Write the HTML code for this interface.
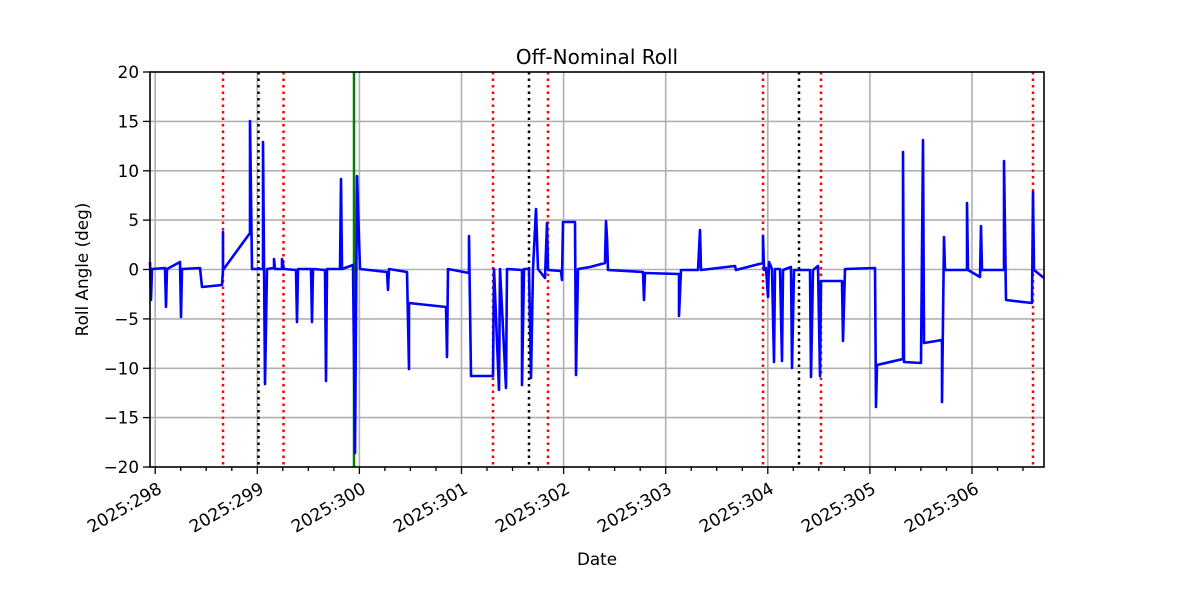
<!DOCTYPE html>
<html><head><meta charset="utf-8"><style>html,body{margin:0;padding:0;background:#fff}svg{display:block}text{font-family:"DejaVu Sans","Liberation Sans",sans-serif;fill:#000}</style></head>
<body>
<svg width="1200" height="600" viewBox="0 0 1200 600" xmlns="http://www.w3.org/2000/svg">
<rect width="1200" height="600" fill="#fff"/>
<g stroke="#b0b0b0" stroke-width="1.6">
<line x1="155.2" y1="72" x2="155.2" y2="467"/><line x1="257.3" y1="72" x2="257.3" y2="467"/><line x1="359.4" y1="72" x2="359.4" y2="467"/><line x1="461.5" y1="72" x2="461.5" y2="467"/><line x1="563.6" y1="72" x2="563.6" y2="467"/><line x1="665.7" y1="72" x2="665.7" y2="467"/><line x1="767.8" y1="72" x2="767.8" y2="467"/><line x1="869.9" y1="72" x2="869.9" y2="467"/><line x1="972" y1="72" x2="972" y2="467"/>
<line x1="150" y1="121.4" x2="1044" y2="121.4"/><line x1="150" y1="170.8" x2="1044" y2="170.8"/><line x1="150" y1="220.1" x2="1044" y2="220.1"/><line x1="150" y1="269.5" x2="1044" y2="269.5"/><line x1="150" y1="318.9" x2="1044" y2="318.9"/><line x1="150" y1="368.3" x2="1044" y2="368.3"/><line x1="150" y1="417.6" x2="1044" y2="417.6"/>
</g>
<g stroke="#ff0000" stroke-width="2.5" stroke-dasharray="2.5,4">
<line x1="223" y1="72" x2="223" y2="467"/><line x1="283.5" y1="72" x2="283.5" y2="467"/><line x1="493" y1="72" x2="493" y2="467"/><line x1="548" y1="72" x2="548" y2="467"/><line x1="763" y1="72" x2="763" y2="467"/><line x1="821" y1="72" x2="821" y2="467"/><line x1="1033" y1="72" x2="1033" y2="467"/>
</g>
<g stroke="#000" stroke-width="2.5" stroke-dasharray="2.5,4">
<line x1="258.5" y1="72" x2="258.5" y2="467"/><line x1="529" y1="72" x2="529" y2="467"/><line x1="799" y1="72" x2="799" y2="467"/>
</g>
<line x1="354" y1="72" x2="354" y2="467" stroke="#008000" stroke-width="2.5"/>
<polyline fill="none" stroke="#0000ff" stroke-width="2.6" stroke-linejoin="round" points="150,262 151,300 152,269 165,268 166,307 167,269 180,262 181,317 182,269 200,268 202,287 222,285 223,270 223,232 223,270 250,233 250,121 252,269 263,269 263,142 265,384 267,269 274,268 274,259 275,269 282,269 282,259 284,269 296,270 297,322 298,269 311,269 312,322 313,269 325,270 326,381 327,269 340,269 341,179 342,269 353,265 355,453 357,176 360,269 387,272 388,290 389,269 407,272 409,369 409,303 446,307 447,357 448,269 469,273 469,236 471,376 493,376 494,269 499,390 500,269 506,388 507,269 522,270 522,385 524,269 529,269 531,378 533,269 536,209 538,269 545,278 547,223 548,270 561,271 562,280 563,222 575,222 576,375 578,269 590,267 605,263 606,221 607,238 608,270 643,272 644,300 645,273 679,274 679,316 681,270 698,270 700,230 701,270 735,266 736,270 763,263 763,236 764,270 766,268 768,297 769,262 772,269 774,362 775,269 780,269 782,361 783,270 791,267 792,368 794,270 810,270 811,377 813,270 818,266 820,376 821,281 842,281 843,341 845,269 875,268 876,407 877,365 903,359 903,152 904,362 921,363 923,140 924,343 942,340 942,402 944,237 945,270 967,270 967,203 968,270 980,277 981,226 982,270 1004,270 1004,161 1006,300 1032,303 1033,192 1034,270 1044,278"/>
<rect x="150" y="72" width="894" height="395" fill="none" stroke="#000" stroke-width="1.6"/>
<g stroke="#000" stroke-width="1.3">
<line x1="155.2" y1="467" x2="155.2" y2="474"/><line x1="257.3" y1="467" x2="257.3" y2="474"/><line x1="359.4" y1="467" x2="359.4" y2="474"/><line x1="461.5" y1="467" x2="461.5" y2="474"/><line x1="563.6" y1="467" x2="563.6" y2="474"/><line x1="665.7" y1="467" x2="665.7" y2="474"/><line x1="767.8" y1="467" x2="767.8" y2="474"/><line x1="869.9" y1="467" x2="869.9" y2="474"/><line x1="972" y1="467" x2="972" y2="474"/>
<line x1="180.7" y1="467" x2="180.7" y2="471"/><line x1="206.2" y1="467" x2="206.2" y2="471"/><line x1="231.8" y1="467" x2="231.8" y2="471"/>
<line x1="282.8" y1="467" x2="282.8" y2="471"/><line x1="308.3" y1="467" x2="308.3" y2="471"/><line x1="333.9" y1="467" x2="333.9" y2="471"/>
<line x1="384.9" y1="467" x2="384.9" y2="471"/><line x1="410.4" y1="467" x2="410.4" y2="471"/><line x1="436" y1="467" x2="436" y2="471"/>
<line x1="487" y1="467" x2="487" y2="471"/><line x1="512.5" y1="467" x2="512.5" y2="471"/><line x1="538.1" y1="467" x2="538.1" y2="471"/>
<line x1="589.1" y1="467" x2="589.1" y2="471"/><line x1="614.6" y1="467" x2="614.6" y2="471"/><line x1="640.2" y1="467" x2="640.2" y2="471"/>
<line x1="691.2" y1="467" x2="691.2" y2="471"/><line x1="716.7" y1="467" x2="716.7" y2="471"/><line x1="742.3" y1="467" x2="742.3" y2="471"/>
<line x1="793.3" y1="467" x2="793.3" y2="471"/><line x1="818.8" y1="467" x2="818.8" y2="471"/><line x1="844.4" y1="467" x2="844.4" y2="471"/>
<line x1="895.4" y1="467" x2="895.4" y2="471"/><line x1="920.9" y1="467" x2="920.9" y2="471"/><line x1="946.5" y1="467" x2="946.5" y2="471"/>
<line x1="997.5" y1="467" x2="997.5" y2="471"/><line x1="1023" y1="467" x2="1023" y2="471"/>
<line x1="143" y1="72" x2="150" y2="72"/><line x1="143" y1="121.4" x2="150" y2="121.4"/><line x1="143" y1="170.8" x2="150" y2="170.8"/><line x1="143" y1="220.1" x2="150" y2="220.1"/><line x1="143" y1="269.5" x2="150" y2="269.5"/><line x1="143" y1="318.9" x2="150" y2="318.9"/><line x1="143" y1="368.3" x2="150" y2="368.3"/><line x1="143" y1="417.6" x2="150" y2="417.6"/><line x1="143" y1="467" x2="150" y2="467"/>
</g>
<g font-size="16.8" text-anchor="end">
<text x="139" y="78">20</text><text x="139" y="127.4">15</text><text x="139" y="176.8">10</text><text x="139" y="226.1">5</text><text x="139" y="275.5">0</text><text x="139" y="324.9">−5</text><text x="139" y="374.3">−10</text><text x="139" y="423.6">−15</text><text x="139" y="473">−20</text>
</g>
<g font-size="17.2" text-anchor="end">
<text transform="translate(163,492) rotate(-30)">2025:298</text>
<text transform="translate(265,492) rotate(-30)">2025:299</text>
<text transform="translate(367,492) rotate(-30)">2025:300</text>
<text transform="translate(469,492) rotate(-30)">2025:301</text>
<text transform="translate(571,492) rotate(-30)">2025:302</text>
<text transform="translate(673,492) rotate(-30)">2025:303</text>
<text transform="translate(775,492) rotate(-30)">2025:304</text>
<text transform="translate(877,492) rotate(-30)">2025:305</text>
<text transform="translate(980,492) rotate(-30)">2025:306</text>
</g>
<text x="597" y="64" font-size="20" text-anchor="middle">Off-Nominal Roll</text>
<text x="597" y="565" font-size="16.8" text-anchor="middle">Date</text>
<text transform="translate(88,269.5) rotate(-90)" font-size="16.8" text-anchor="middle">Roll Angle (deg)</text>
</svg>
</body></html>
